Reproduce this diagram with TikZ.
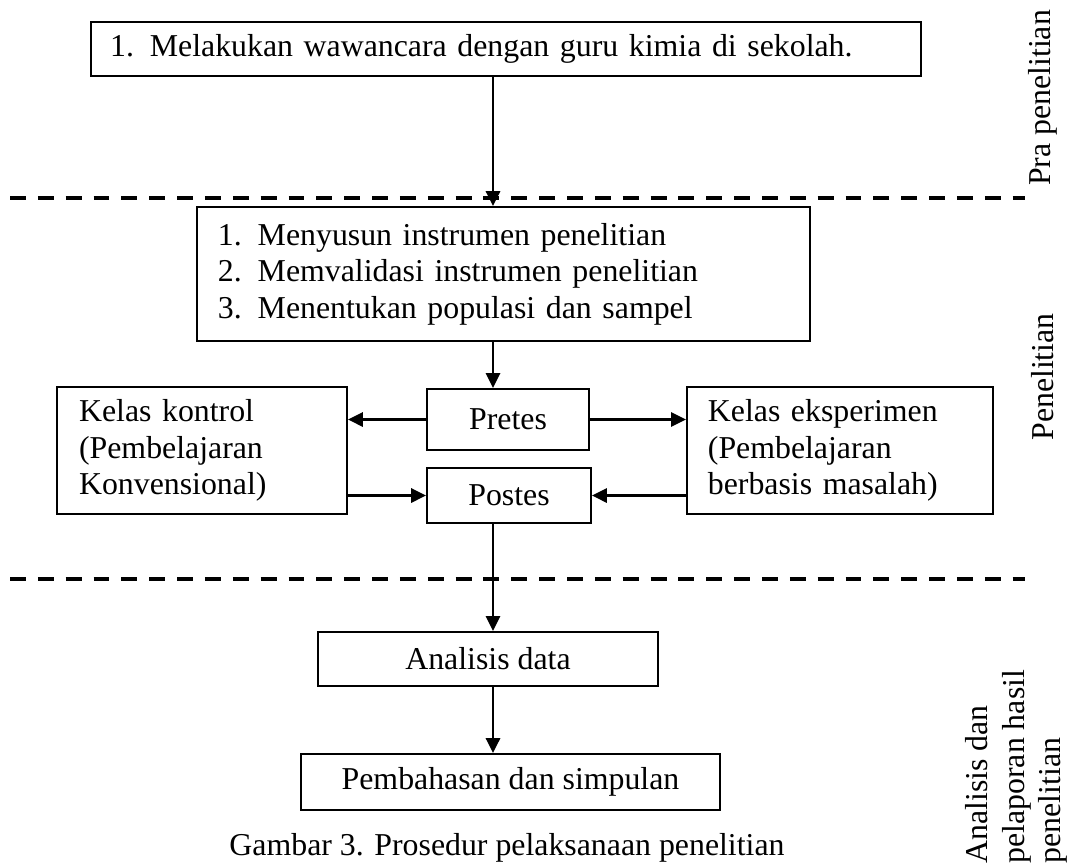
\documentclass[tikz,border=0pt]{standalone}
\usepackage{fontspec}
\setmainfont{Liberation Serif}
\usetikzlibrary{arrows.meta}
\tikzset{>={Triangle[length=5.6pt,width=5.4pt]}}
\tikzset{
  box/.style = {draw, line width=0.8pt, inner sep=0pt},
  listbox/.style = {box, align=left},
  phase/.style = {rotate=90, inner sep=0pt},
  divider/.style = {line width=1.5pt, dash pattern=on 6pt off 4.5pt},
  flow/.style = {->, line width=0.8pt}
}
\newcommand{\num}[1]{\makebox[15pt][l]{#1}}

\begin{document}
\begin{tikzpicture}[x=0.377pt, y=-0.377pt, font=\fontsize{12}{13.8}\selectfont]
  \useasboundingbox (0,0) rectangle (1073,867);
  \coordinate (spine) at (493,0);
  % phase dividers
  \draw[divider] (10,198) -- (1025,198);
  \draw[divider] (10,579) -- (1025,579);
  % boxes
  \node[listbox, text width=298.5pt, inner xsep=7.2pt, minimum height=20.4pt] (wawancara) at (506,49) {\num{1.}Melakukan wawancara dengan guru kimia di sekolah.};
  \node[listbox, text width=215.3pt, inner xsep=7.9pt, minimum height=50.5pt] (persiapan) at (503.5,274) {\num{1.}Menyusun instrumen penelitian\\\num{2.}Memvalidasi instrumen penelitian\\\num{3.}Menentukan populasi dan sampel};
  \node[box, minimum width=61.1pt, minimum height=23pt] (pretes) at (508,419.5) {Pretes};
  \node[box, minimum width=61.8pt, minimum height=20.7pt] (postes) at (509,495.5) {Postes};
  \node[listbox, text width=92.7pt, inner xsep=8.3pt, minimum height=47.9pt] (kontrol) at (202,450.5) {Kelas kontrol\\(Pembelajaran\\Konvensional)};
  \node[listbox, text width=99.6pt, inner xsep=7.9pt, minimum height=47.9pt] (eksperimen) at (840,450.5) {Kelas eksperimen\\(Pembelajaran\\berbasis masalah)};
  \node[box, minimum width=128.2pt, minimum height=20.4pt] (analisis) at (488,659) {Analisis data};
  \node[box, minimum width=158pt, minimum height=21.1pt] (pembahasan) at (510.5,782) {Pembahasan dan simpulan};
  \node (caption) at (507,848) {Gambar 3. Prosedur pelaksanaan penelitian};
  % phase labels
  \node[phase] (pra) at (1043,98) {Pra penelitian};
  \node[phase] (inti) at (1043,377) {Penelitian};
  \node[phase, align=left, anchor=south west] (lapor) at (1068,864) {Analisis dan\\pelaporan hasil\\penelitian};
  % arrows
  \draw[flow] (wawancara.south -| spine) -- (persiapan.north -| spine);
  \draw[flow] (persiapan.south -| spine) -- (pretes.north -| spine);
  \draw[flow] (pretes.west) -- (pretes.west -| kontrol.east);
  \draw[flow] (pretes.east) -- (pretes.east -| eksperimen.west);
  \draw[flow] (kontrol.east |- postes.west) -- (postes.west);
  \draw[flow] (eksperimen.west |- postes.east) -- (postes.east);
  \draw[flow] (postes.south -| spine) -- (analisis.north -| spine);
  \draw[flow] (analisis.south -| spine) -- (pembahasan.north -| spine);
\end{tikzpicture}
\end{document}
